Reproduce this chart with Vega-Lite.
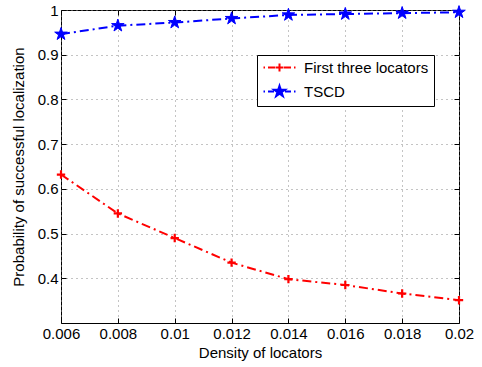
{
  "$schema": "https://vega.github.io/schema/vega-lite/v6.json",
  "width": 398,
  "height": 313,
  "autosize": {"type": "none"},
  "padding": {"left": 61, "top": 10, "right": 23, "bottom": 44},
  "background": "white",
  "config": {
    "view": {"stroke": "black", "strokeWidth": 1},
    "font": "Liberation Sans",
    "axis": {"labelFont": "Liberation Sans", "titleFont": "Liberation Sans", "labelFontSize": 15, "titleFontSize": 15, "titleFontWeight": "normal", "labelColor": "black", "titleColor": "black"}
  },
  "data": {
    "values": [
      {"density": 0.006, "p": 0.632, "series": "First three locators"},
      {"density": 0.008, "p": 0.545, "series": "First three locators"},
      {"density": 0.010, "p": 0.490, "series": "First three locators"},
      {"density": 0.012, "p": 0.435, "series": "First three locators"},
      {"density": 0.014, "p": 0.398, "series": "First three locators"},
      {"density": 0.016, "p": 0.385, "series": "First three locators"},
      {"density": 0.018, "p": 0.366, "series": "First three locators"},
      {"density": 0.020, "p": 0.351, "series": "First three locators"},
      {"density": 0.006, "p": 0.946, "series": "TSCD"},
      {"density": 0.008, "p": 0.965, "series": "TSCD"},
      {"density": 0.010, "p": 0.972, "series": "TSCD"},
      {"density": 0.012, "p": 0.981, "series": "TSCD"},
      {"density": 0.014, "p": 0.989, "series": "TSCD"},
      {"density": 0.016, "p": 0.991, "series": "TSCD"},
      {"density": 0.018, "p": 0.993, "series": "TSCD"},
      {"density": 0.020, "p": 0.995, "series": "TSCD"}
    ]
  },
  "layer": [
    {
      "mark": {"type": "line", "strokeWidth": 2, "strokeDash": [9, 4, 2, 4]},
      "encoding": {
        "x": {"field": "density", "type": "quantitative", "scale": {"domain": [0.006, 0.02], "nice": false, "zero": false},
              "axis": {"orient": "bottom", "title": "Density of locators", "values": [0.006, 0.008, 0.01, 0.012, 0.014, 0.016, 0.018, 0.02], "format": "~g", "labelFlush": false, "labelOverlap": false, "grid": true, "gridDash": [1, 4], "gridColor": "#888", "gridWidth": 1, "domain": false, "tickSize": -5, "tickColor": "black", "labelPadding": 8, "titlePadding": 4}},
        "y": {"field": "p", "type": "quantitative", "scale": {"domain": [0.3, 1], "nice": false, "zero": false},
              "axis": {"orient": "left", "title": "Probability of successful localization", "values": [0.4, 0.5, 0.6, 0.7, 0.8, 0.9, 1], "format": "~g", "labelFlush": false, "labelOverlap": false, "grid": true, "gridDash": [1, 4], "gridColor": "#888", "gridWidth": 1, "domain": false, "tickSize": -5, "tickColor": "black", "labelPadding": 8, "titlePadding": 11}},
        "color": {"field": "series", "type": "nominal",
                  "scale": {"domain": ["First three locators", "TSCD"], "range": ["#ff0000", "#0000ff"]},
                  "legend": {
                    "orient": "none", "legendX": 196, "legendY": 45, "title": null,
                    "fillColor": "white", "strokeColor": "black", "padding": 5,
                    "labelFontSize": 15, "labelFont": "Liberation Sans", "labelColor": "black",
                    "symbolSize": 100, "symbolOffset": 10, "labelOffset": 17, "rowPadding": 5,
                    "encode": {"symbols": {"update": {
                      "shape": {"signal": "datum.value === 'TSCD' ? 'M-3.2,0L-2.9,0M-2.3,0L-1.1,0M1.1,0L2.3,0M2.9,0L3.2,0M0,-1.15L0.258,-0.355L1.094,-0.355L0.417,0.136L0.676,0.93L0,0.439L-0.676,0.93L-0.417,0.136L-1.094,-0.355L-0.258,-0.355Z' : 'M-3.2,0L-2.9,0M-2.3,0L-0.9,0M0.9,0L2.3,0M2.9,0L3.2,0M-0.8,0L0.8,0M0,-0.8L0,0.8'"},
                      "fill": {"signal": "datum.value === 'TSCD' ? '#0000ff' : '#ff0000'"},
                      "stroke": {"signal": "datum.value === 'TSCD' ? '#0000ff' : '#ff0000'"},
                      "fillOpacity": {"value": 1},
                      "strokeWidth": {"value": 2},
                      "strokeDash": {"value": [1, 0]},
                      "opacity": {"value": 1}
                    }}}
                  }}
      }
    },
    {
      "transform": [{"filter": "datum.series === 'First three locators'"}],
      "mark": {"type": "point", "shape": "M-1,0L1,0M0,-1L0,1", "filled": false, "stroke": "#ff0000", "strokeWidth": 2.2, "size": 70, "opacity": 1},
      "encoding": {
        "x": {"field": "density", "type": "quantitative",
              "axis": {"orient": "top", "title": null, "labels": false, "grid": false, "domain": false, "tickSize": -5, "tickColor": "black", "values": [0.006, 0.008, 0.01, 0.012, 0.014, 0.016, 0.018, 0.02]}},
        "y": {"field": "p", "type": "quantitative",
              "axis": {"orient": "right", "title": null, "labels": false, "grid": false, "domain": false, "tickSize": -5, "tickColor": "black", "values": [0.4, 0.5, 0.6, 0.7, 0.8, 0.9, 1]}}
      }
    },
    {
      "transform": [{"filter": "datum.series === 'TSCD'"}],
      "mark": {"type": "point", "shape": "M0,-1L0.2245,-0.309L0.951,-0.309L0.363,0.118L0.588,0.809L0,0.382L-0.588,0.809L-0.363,0.118L-0.951,-0.309L-0.2245,-0.309Z", "filled": true, "fill": "#0000ff", "stroke": "#0000ff", "strokeWidth": 1, "size": 175, "opacity": 1},
      "encoding": {
        "x": {"field": "density", "type": "quantitative", "axis": null},
        "y": {"field": "p", "type": "quantitative", "axis": null}
      }
    }
  ],
  "resolve": {"axis": {"x": "independent", "y": "independent"}}
}
